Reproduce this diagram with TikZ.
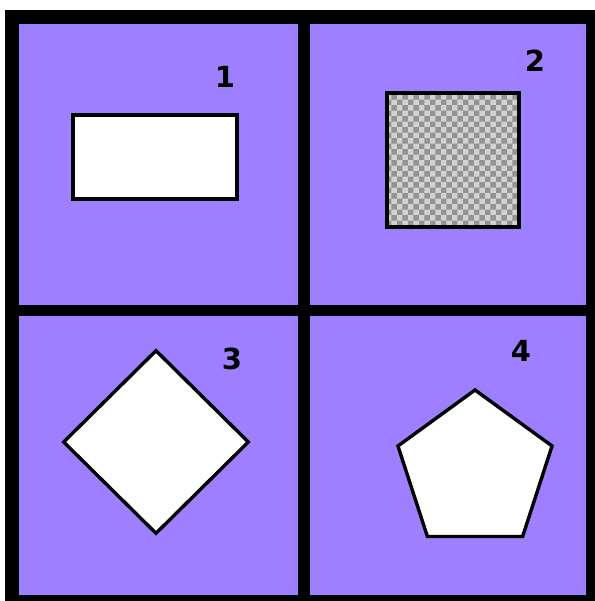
\documentclass[tikz,border=0pt]{standalone}
\usepackage{fontspec}
\newfontfamily\digitfont{DejaVu Sans}
\usetikzlibrary{shapes.geometric, patterns}
\definecolor{cellpurple}{RGB}{158,127,255}

\begin{document}
\begin{tikzpicture}[
    x=1pt, y=-1pt,
    every node/.style={draw, line width=3.4pt, fill=white, inner sep=0pt},
    number/.style={draw=none, fill=none, font=\digitfont\bfseries\fontsize{29}{32}\selectfont}
]
\useasboundingbox (0,0) rectangle (594,601);
% background and grid
\fill[cellpurple] (11.5,17.5) rectangle (593,602);
\draw[line width=12pt] (303.5,17.5) -- (303.5,602);
\draw[line width=11pt] (11.5,310.5) -- (593,310.5);
\draw[line width=14pt] (11.5,17.5) rectangle (593,602);

\node (shape_rectangle) [rectangle, minimum width=164, minimum height=84] at (155,157) {};
\node (shape_square) [rectangle, minimum width=132, minimum height=134, preaction={fill=gray!35},
    pattern=checkerboard, pattern color=gray!85] at (453,160) {};
\node (shape_diamond) [diamond, minimum width=186, minimum height=184] at (156,442) {};
\node (shape_pentagon) [regular polygon, regular polygon sides=5, minimum size=162] at (475,471) {};

\node (label_one) [number] at (225,77) {1};
\node (label_two) [number] at (535,61) {2};
\node (label_three) [number] at (232,359) {3};
\node (label_four) [number] at (521,351) {4};
\end{tikzpicture}
\end{document}
